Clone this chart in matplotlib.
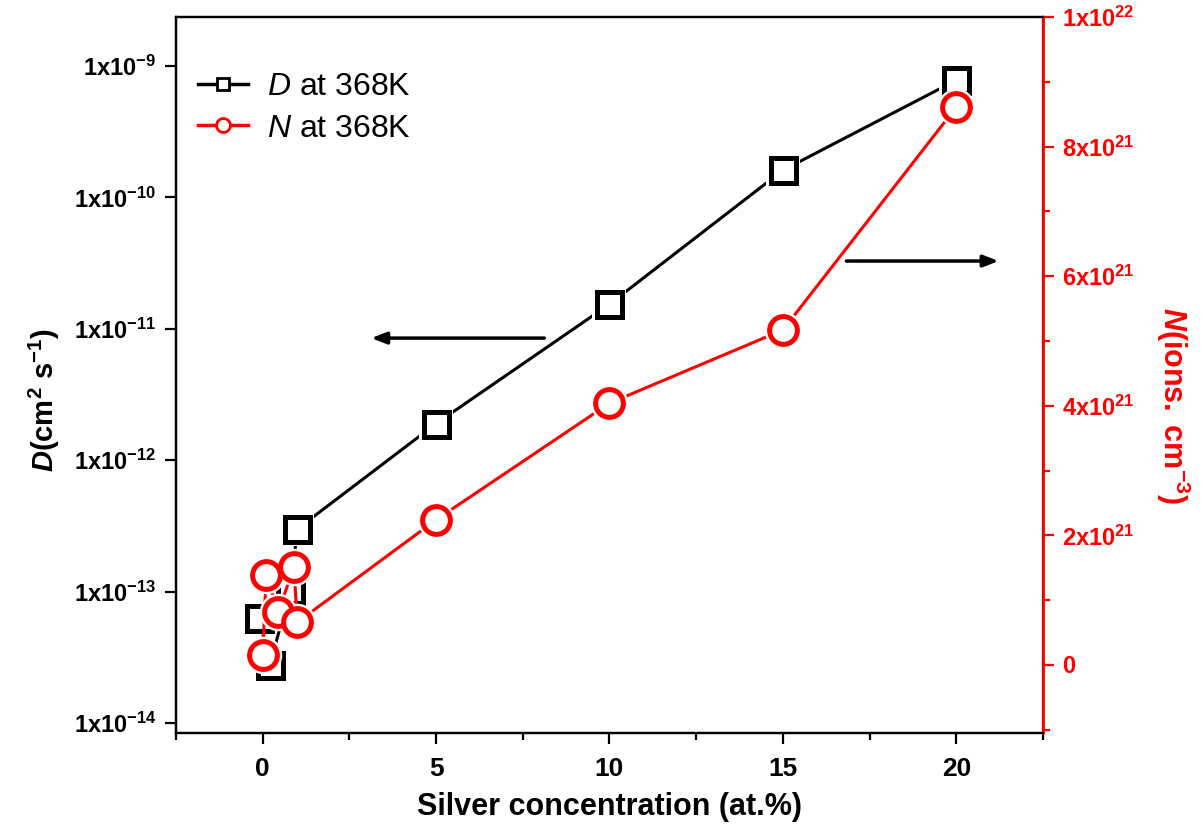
import matplotlib
matplotlib.use("Agg")
import matplotlib.pyplot as plt
from matplotlib.ticker import FixedLocator, NullLocator
from matplotlib.lines import Line2D

plt.rcParams['font.family'] = ['Liberation Sans', 'DejaVu Sans']
plt.rcParams['mathtext.fontset'] = 'custom'
plt.rcParams['mathtext.rm'] = 'Liberation Sans'
plt.rcParams['mathtext.it'] = 'Liberation Sans:italic'
plt.rcParams['mathtext.bf'] = 'Liberation Sans:bold'
plt.rcParams['mathtext.bfit'] = 'Liberation Sans:italic:bold'

# ---- data ----
d_x = [-0.1, 0.2, 0.8, 1.0, 5, 10, 15, 20]
d_y = [6.3e-14, 2.75e-14, 1.02e-13, 3.0e-13, 1.9e-12, 1.54e-11, 1.61e-10, 7.8e-10]

n_x = [0.0, 0.1, 0.45, 0.9, 1.0, 5, 10, 15, 20]
n_y = [0.15e21, 1.39e21, 0.82e21, 1.51e21, 0.66e21, 2.24e21, 4.04e21, 5.17e21, 8.61e21]

x_ticks = [0, 5, 10, 15, 20]
left_ticks = [1e-14, 1e-13, 1e-12, 1e-11, 1e-10, 1e-9]
left_labels = [r'$\mathbf{1x10^{-14}}$', r'$\mathbf{1x10^{-13}}$', r'$\mathbf{1x10^{-12}}$',
               r'$\mathbf{1x10^{-11}}$', r'$\mathbf{1x10^{-10}}$', r'$\mathbf{1x10^{-9}}$']
right_ticks = [0, 2e21, 4e21, 6e21, 8e21, 1e22]
right_labels = [r'$\mathbf{0}$', r'$\mathbf{2x10^{21}}$', r'$\mathbf{4x10^{21}}$',
                r'$\mathbf{6x10^{21}}$', r'$\mathbf{8x10^{21}}$', r'$\mathbf{1x10^{22}}$']

fig = plt.figure(figsize=(12.03, 8.35), dpi=100)
ax = fig.add_axes([0.1463, 0.1222, 0.7207, 0.8574])
ax2 = ax.twinx()

RED = '#ff0000'

# D series
ax.plot(d_x, d_y, color='black', lw=2.2, zorder=2)
ax.plot(d_x, d_y, ls='none', marker='s', ms=24, mfc='white', mec='white', mew=0, zorder=3)
ax.plot(d_x, d_y, ls='none', marker='s', ms=18, mfc='white', mec='black', mew=3.6, zorder=4)

# N series
ax2.plot(n_x, n_y, color=RED, lw=2.2, zorder=2)
ax2.plot(n_x, n_y, ls='none', marker='o', ms=27, mfc='white', mec='white', mew=0, zorder=3)
ax2.plot(n_x, n_y, ls='none', marker='o', ms=20, mfc='white', mec=RED, mew=3.6, zorder=4)

ax.set_yscale('log')
ax.set_xlim(-2.5, 22.5)
ax.set_ylim(8.4e-15, 2.36e-9)
ax2.set_ylim(-1.05e21, 1.0e22)

ax.xaxis.set_major_locator(FixedLocator(x_ticks))
ax.xaxis.set_minor_locator(FixedLocator([-2.5, 2.5, 7.5, 12.5, 17.5, 22.5]))
ax.set_xticklabels([str(v) for v in x_ticks], fontsize=19, fontweight='bold')

ax.yaxis.set_major_locator(FixedLocator(left_ticks))
ax.yaxis.set_minor_locator(NullLocator())
ax.set_yticklabels(left_labels, fontsize=17)

ax2.yaxis.set_major_locator(FixedLocator(right_ticks))
ax2.yaxis.set_minor_locator(FixedLocator([-1e21, 1e21, 3e21, 5e21, 7e21, 9e21]))
ax2.set_yticklabels(right_labels, fontsize=17, color=RED)

for a in (ax, ax2):
    for s in a.spines.values():
        s.set_linewidth(1.6)
ax2.spines['right'].set_color(RED)
ax2.spines['right'].set_linewidth(2.0)

ax.tick_params(axis='both', which='major', direction='out', length=8, width=1.6, pad=6)
ax.tick_params(axis='x', which='minor', direction='out', length=5, width=1.6)
ax.tick_params(axis='x', which='major', pad=9)
ax2.tick_params(axis='y', which='major', direction='out', length=8, width=1.6, color=RED, labelcolor=RED, pad=6)
ax2.tick_params(axis='y', which='minor', direction='out', length=5, width=1.6, color=RED)

ax.set_xlabel('Silver concentration (at.%)', fontsize=22, fontweight='bold', labelpad=8)
ax.set_ylabel(r'$\mathbfit{D}\mathbf{(cm^{2}\ s^{-1})}$', fontsize=21)
ax.yaxis.set_label_coords(-0.131, 0.465)
ax2.set_ylabel(r'$\mathbfit{N}\mathbf{(ions.\ cm^{-3})}$', fontsize=22, color=RED, rotation=270)
ax2.yaxis.set_label_coords(1.172, 0.457)

# arrows
ax.annotate('', xy=(3.05, 8.5e-12), xytext=(8.2, 8.5e-12),
            arrowprops=dict(arrowstyle='-|>,head_length=0.9,head_width=0.35', color='black', lw=2.5))
ax.annotate('', xy=(21.3, 3.28e-11), xytext=(16.75, 3.28e-11),
            arrowprops=dict(arrowstyle='-|>,head_length=0.9,head_width=0.35', color='black', lw=2.5))

# legend
h1 = Line2D([], [], color='black', lw=2.5, marker='s', ms=9, mfc='white', mec='black', mew=2)
h2 = Line2D([], [], color=RED, lw=2.5, marker='o', ms=10, mfc='white', mec=RED, mew=2)
leg = ax.legend([h1, h2], [r'$\mathit{D}$ at 368K', r'$\mathit{N}$ at 368K'],
                loc='upper left', bbox_to_anchor=(0.0, 0.954), frameon=False, fontsize=23,
                handlelength=1.55, handletextpad=0.6, labelspacing=0.35, borderaxespad=0.3)

fig.savefig('out.png', dpi=100)
